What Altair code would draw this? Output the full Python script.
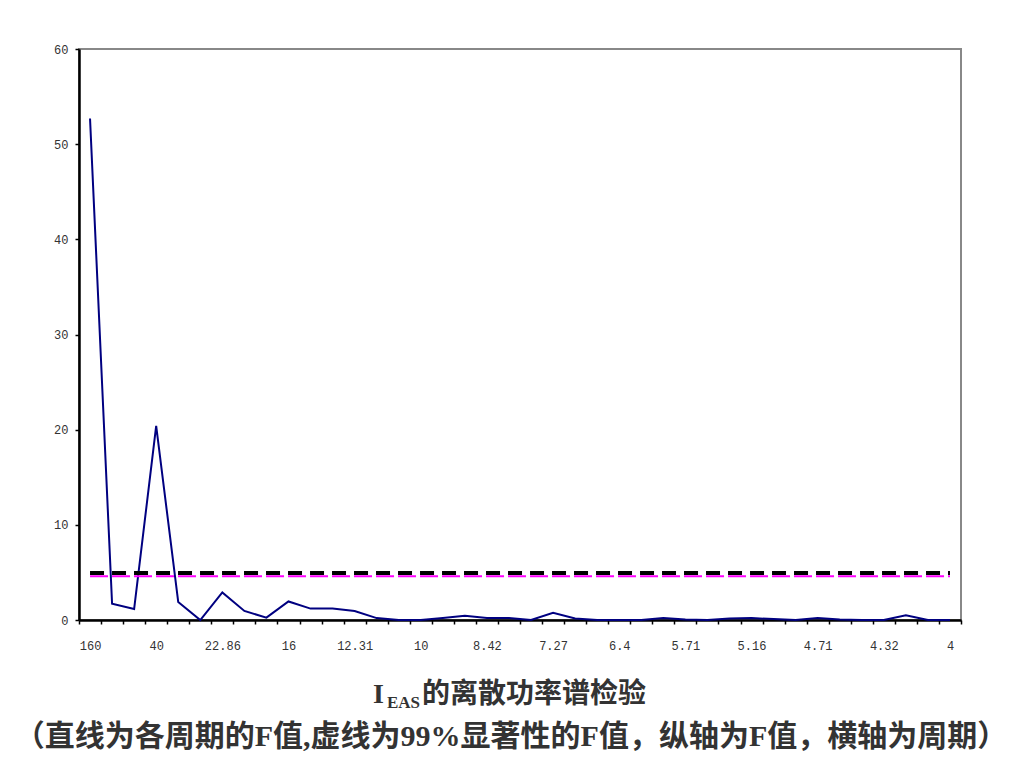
import altair as alt
import pandas as pd

periods = ["160", "80", "53.33", "40", "32", "26.67", "22.86", "20", "17.78", "16",
           "14.55", "13.33", "12.31", "11.43", "10.67", "10", "9.41", "8.89", "8.42", "8",
           "7.62", "7.27", "6.96", "6.67", "6.4", "6.15", "5.93", "5.71", "5.52", "5.33",
           "5.16", "5", "4.85", "4.71", "4.57", "4.44", "4.32", "4.21", "4.1", "4"]
f_values = [52.7, 1.7, 1.15, 20.4, 1.9, 0.0, 2.9, 0.95, 0.25, 1.95,
            1.2, 1.2, 0.95, 0.2, 0.0, 0.0, 0.2, 0.45, 0.2, 0.2,
            0.0, 0.75, 0.15, 0.0, 0.0, 0.0, 0.2, 0.05, 0.0, 0.15,
            0.2, 0.1, 0.0, 0.2, 0.05, 0.0, 0.0, 0.5, 0.0, 0.0]
f99 = 4.93
f_dash = 4.6
shown_labels = ["160", "40", "22.86", "16", "12.31", "10", "8.42", "7.27",
                "6.4", "5.71", "5.16", "4.71", "4.32", "4"]

df = pd.DataFrame({"period": periods, "F": f_values,
                   "crit": [f99] * len(periods), "crit2": [f_dash] * len(periods)})

label_list = "[" + ",".join("'" + s + "'" for s in shown_labels) + "]"
lab_font = "Liberation Mono"

xenc = alt.X("period:N", sort=periods,
             scale=alt.Scale(type="band", paddingInner=0, paddingOuter=0),
             axis=alt.Axis(title=None, labelAngle=0, tickBand="extent",
                           labelExpr=f"indexof({label_list}, datum.value) >= 0 ? datum.value : ''",
                           domainColor="black", domainWidth=2.5, tickColor="black", tickWidth=1.5,
                           tickSize=4, labelPadding=16, labelFont=lab_font, labelFontSize=12,
                           labelColor="#333", grid=False))
yscale = alt.Scale(domain=[0, 60], nice=False)
yaxis = alt.Axis(title=None, values=[0, 10, 20, 30, 40, 50, 60], domainColor="black",
                 domainWidth=2.5, tickColor="black", tickWidth=1.5, tickSize=4,
                 labelPadding=7, labelFont=lab_font, labelFontSize=12, labelColor="#333",
                 grid=False)

base = alt.Chart(df)
line = base.mark_line(color="#000080", strokeWidth=2).encode(
    x=xenc, y=alt.Y("F:Q", scale=yscale, axis=yaxis))
crit2 = base.mark_line(color="#ff00ff", strokeWidth=2, strokeDash=[18, 4]).encode(
    x=alt.X("period:N", sort=periods), y=alt.Y("crit2:Q", scale=yscale))
crit = base.mark_line(color="black", strokeWidth=4, strokeDash=[14, 8]).encode(
    x=alt.X("period:N", sort=periods), y=alt.Y("crit:Q", scale=yscale))

title_font_cjk = "Liberation Serif, Noto Sans CJK SC"
t_rows = pd.DataFrame({"t": [0]})
t1 = alt.Chart(t_rows).mark_text(text="I", font="Liberation Serif", fontSize=28,
                                 fontWeight="bold", align="left", baseline="alphabetic",
                                 color="#333").encode(x=alt.value(294), y=alt.value(654))
t1s = alt.Chart(t_rows).mark_text(text="EAS", font="Liberation Serif", fontSize=17,
                                  fontWeight="bold", align="left", baseline="alphabetic",
                                  color="#333").encode(x=alt.value(308), y=alt.value(659))
t1c = alt.Chart(t_rows).mark_text(text="的离散功率谱检验", font="Noto Sans CJK SC", fontSize=28,
                                  fontWeight="bold", align="left", baseline="alphabetic",
                                  color="#333").encode(x=alt.value(343), y=alt.value(654))
t2 = alt.Chart(t_rows).mark_text(
    text="（直线为各周期的F值,虚线为99%显著性的F值，纵轴为F值，横轴为周期）",
    font=title_font_cjk, fontSize=30, fontWeight="bold", align="center",
    baseline="alphabetic", color="#333").encode(x=alt.value(432), y=alt.value(697))

chart = alt.layer(line, crit2, crit, t1, t1s, t1c, t2).properties(
    width=882, height=571,
    autosize=alt.AutoSizeParams(type="none"),
    padding={"left": 71, "top": 41, "right": 55, "bottom": 140},
).configure_view(stroke="#888", strokeWidth=2)

chart.save("out.html", embed_options={"renderer": "svg", "actions": False})
